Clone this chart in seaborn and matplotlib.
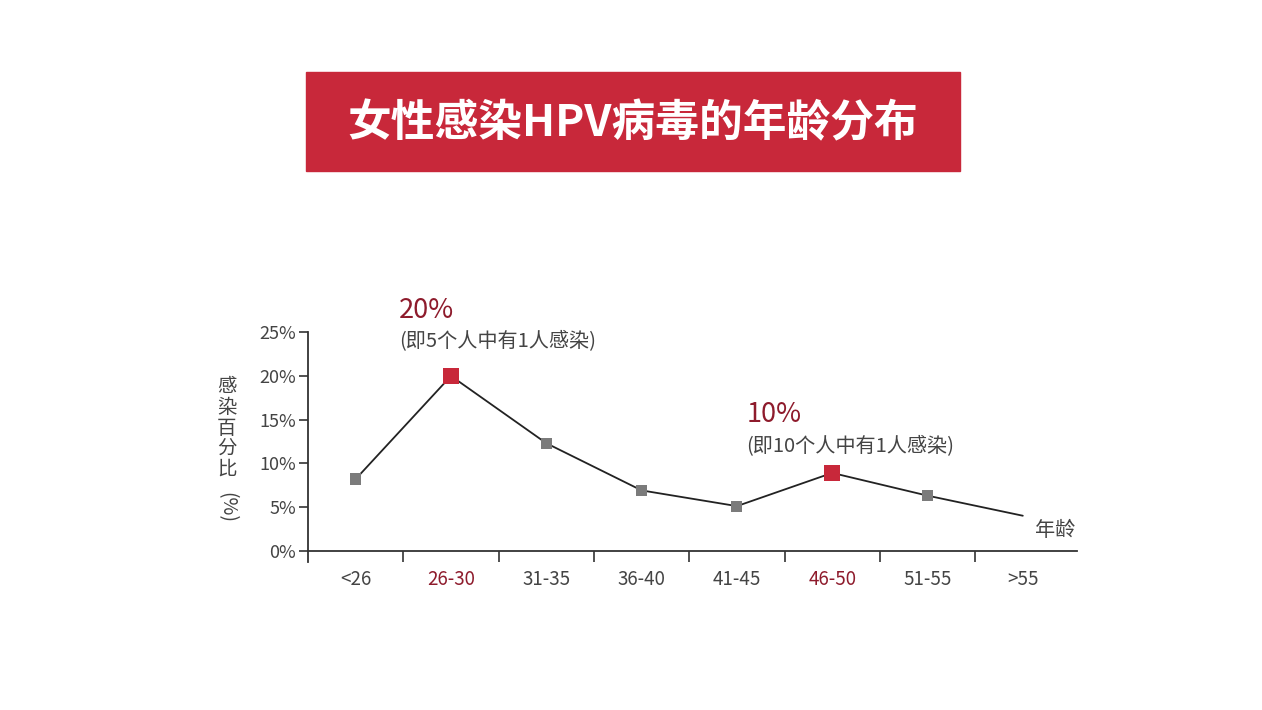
import matplotlib.pyplot as plt
import pandas as pd
import seaborn as sns
from matplotlib.patches import Rectangle
from matplotlib.ticker import FixedLocator

# data
ages = ["<26", "26-30", "31-35", "36-40", "41-45", "46-50", "51-55", ">55"]
rates = [8.2, 20.0, 12.3, 6.9, 5.1, 8.9, 6.3, 4.0]
highlight = ["26-30", "46-50"]
no_marker = [">55"]
yticks = [0, 5, 10, 15, 20, 25]
callouts = {
    "26-30": ("20%", "(即5个人中有1人感染)"),
    "46-50": ("10%", "(即10个人中有1人感染)"),
}

title = "女性感染HPV病毒的年龄分布"
ylabel = "感染百分比"
xlabel = "年龄"

RED = "#c8283a"
DARK_RED = "#8e1b2c"
GRAY = "#7b7b7b"
TEXT = "#444444"

sns.set_theme(style="white")
plt.rcParams["font.family"] = ["Noto Sans CJK SC", "DejaVu Sans"]

df = pd.DataFrame({"age": ages, "rate": rates})
df["pos"] = range(len(df))
df["hot"] = df["age"].isin(highlight)
df["mark"] = ~df["age"].isin(no_marker)

fig = plt.figure(figsize=(12.62, 7.1), dpi=100)
ax = fig.add_axes([0.2441, 0.2089, 0.6094, 0.3231])

# title banner
fig.patches.append(Rectangle((0.2425, 0.7592), 0.5182, 0.1394,
                             transform=fig.transFigure, color=RED, zorder=0))
fig.text(0.5016, 1 - 123 / 710, title, color="white", fontsize=31.5, fontweight="bold",
         ha="center", va="center")

sns.lineplot(data=df, x="pos", y="rate", color="#222222", linewidth=1.3, ax=ax, zorder=2)
plain = df[df["mark"] & ~df["hot"]]
hot = df[df["hot"]]
sns.scatterplot(data=plain, x="pos", y="rate", marker="s", s=64, color=GRAY,
                edgecolor="none", ax=ax, zorder=3)
sns.scatterplot(data=hot, x="pos", y="rate", marker="s", s=135, color=RED,
                edgecolor="none", ax=ax, zorder=3)

for age, (big, small) in callouts.items():
    row = df[df["age"] == age].iloc[0]
    dx = -52 if age == "26-30" else -86
    ax.annotate(big, (row["pos"], row["rate"]), xytext=(dx, 65 if age == "26-30" else 58),
                textcoords="offset pixels", ha="left", va="center",
                fontsize=19.5, color=DARK_RED, annotation_clip=False)
    ax.annotate(small, (row["pos"], row["rate"]), xytext=(dx, 35 if age == "26-30" else 27),
                textcoords="offset pixels", ha="left", va="center",
                fontsize=14.5, color=TEXT, annotation_clip=False)

ax.set_xlim(-0.5, 7.57)
ax.set_ylim(-1.26, 25)

# axes styling
for side in ["top", "right"]:
    ax.spines[side].set_visible(False)
for side in ["left", "bottom"]:
    ax.spines[side].set_color("#333333")
    ax.spines[side].set_linewidth(1.3)
ax.spines["bottom"].set_position(("data", 0))

ax.set_yticks(yticks)
ax.set_yticklabels([f"{v}%" for v in yticks])
ax.tick_params(axis="y", direction="out", length=6.5, width=1.2, color="#333333",
               labelsize=13, labelcolor=TEXT, pad=2, left=True)

ax.xaxis.set_major_locator(FixedLocator([p + 0.5 for p in df["pos"][:-1]]))
ax.xaxis.set_minor_locator(FixedLocator(list(df["pos"])))
ax.set_xticklabels([], minor=False)
ax.set_xticklabels(ages, minor=True)
ax.tick_params(axis="x", which="major", direction="out", length=8, width=1.2,
               color="#333333", bottom=True)
ax.tick_params(axis="x", which="minor", length=0, labelsize=13.5, pad=13, bottom=True)
for lab, age in zip(ax.get_xticklabels(minor=True), ages):
    lab.set_color(DARK_RED if age in highlight else TEXT)

ax.set_xlabel("")
ax.set_ylabel("")
ax.grid(False)

# axis titles
fig.text(227 / 1262, 1 - 428 / 710, "\n".join(ylabel), fontsize=14, color=TEXT,
         ha="center", va="center", linespacing=0.98)
fig.text(227 / 1262, 1 - 507 / 710, "(%)", fontsize=14, color=TEXT,
         ha="center", va="center", rotation=270)
fig.text(1055 / 1262, 1 - 530 / 710, xlabel, fontsize=14.5, color=TEXT,
         ha="center", va="center")

fig.savefig("out.png", dpi=100, facecolor="white")
